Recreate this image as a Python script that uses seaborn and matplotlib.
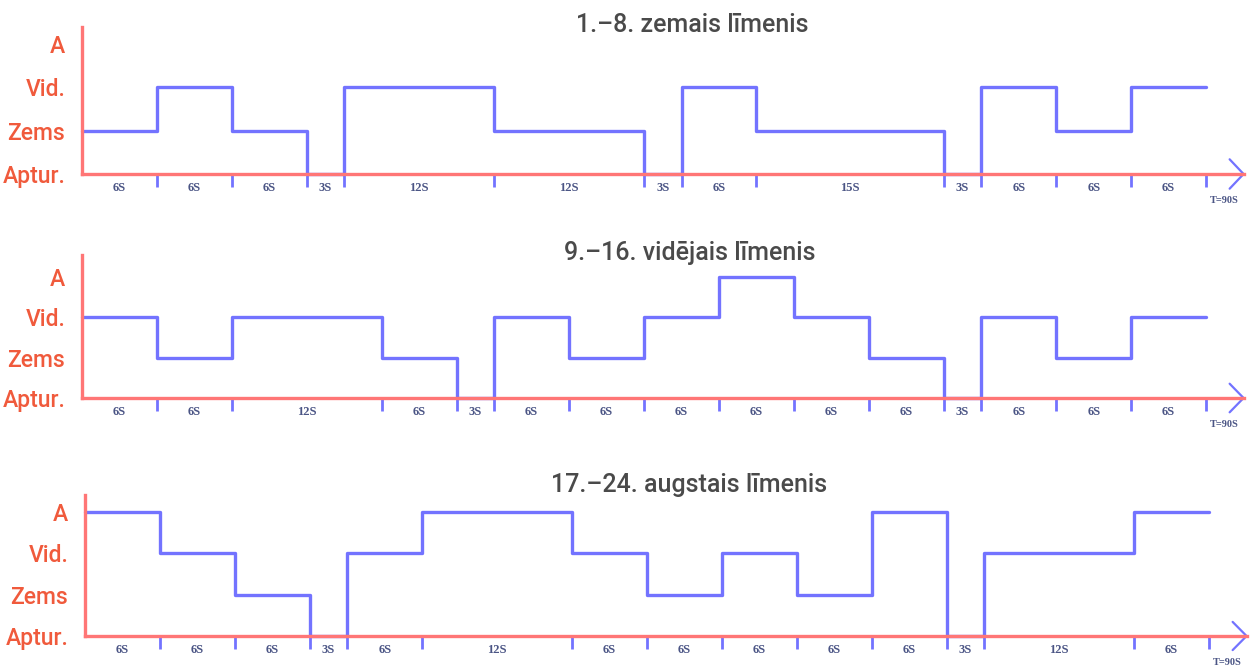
import numpy as np
import pandas as pd
import matplotlib
matplotlib.use("Agg")
import matplotlib.pyplot as plt
import seaborn as sns

sns.set_style("white")
plt.rcParams['font.family'] = ['Roboto', 'DejaVu Sans']

level_names = ["Aptur.", "Zems", "Vid.", "A"]

titles = ["1.–8. zemais līmenis",
          "9.–16. vidējais līmenis",
          "17.–24. augstais līmenis"]

# durations in seconds and level (0=Aptur., 1=Zems, 2=Vid., 3=A)
dur_low = [6, 6, 6, 3, 12, 12, 3, 6, 15, 3, 6, 6, 6]
lvl_low = [1, 2, 1, 0, 2, 1, 0, 2, 1, 0, 2, 1, 2]

dur_mid = [6, 6, 12, 6, 3, 6, 6, 6, 6, 6, 6, 3, 6, 6, 6]
lvl_mid = [2, 1, 2, 1, 0, 2, 1, 2, 3, 2, 1, 0, 2, 1, 2]

dur_high = [6, 6, 6, 3, 6, 12, 6, 6, 6, 6, 6, 3, 12, 6]
lvl_high = [3, 2, 1, 0, 2, 3, 2, 1, 2, 1, 3, 0, 2, 3]

total_label = "T=90S"

line_col = "#7373ff"
axis_col = "#ff7676"
label_col = "#f05a3c"
seg_text_col = "#4b5585"
tick_col = "#5a5a90"
serif = ['Liberation Serif', 'DejaVu Serif']

W, H = 1253, 666
fig = plt.figure(figsize=(W / 100, H / 100), dpi=100)

# panel boxes in pixels
panels = [
    (dict(left=82, bottom=174, top=27, ymax=3.39, title_y=25, title_x=692), dur_low, lvl_low),
    (dict(left=82, bottom=398, top=255, ymax=3.55, title_y=253, title_x=690), dur_mid, lvl_mid),
    (dict(left=85, bottom=636, top=495, ymax=3.41, title_y=485, title_x=689), dur_high, lvl_high),
]

xmax = 93.0
for (box, durs, lvls), title in zip(panels, titles):
    scale = 12.49
    right = box['left'] + xmax * scale
    ax = fig.add_axes([box['left'] / W, (H - box['bottom']) / H,
                       (right - box['left']) / W, (box['bottom'] - box['top']) / H])

    starts = np.concatenate([[0], np.cumsum(durs)])
    df = pd.DataFrame({"t": starts, "level": list(lvls) + [lvls[-1]]})
    sns.lineplot(data=df, x="t", y="level", drawstyle="steps-post",
                 estimator=None, sort=False, color=line_col, linewidth=2.4,
                 ax=ax, zorder=3, clip_on=False)

    ax.set_xlim(0, xmax)
    ax.set_ylim(0, box['ymax'])
    ax.set_xlabel("")
    ax.set_ylabel("")

    for s in ["top", "right"]:
        ax.spines[s].set_visible(False)
    for s in ["left", "bottom"]:
        ax.spines[s].set_color(axis_col)
        ax.spines[s].set_linewidth(2.4)
        ax.spines[s].set_zorder(4)

    ax.tick_params(which='both', bottom=True, left=True)

    # x: labels centred in segments, ticks at boundaries
    mids = starts[:-1] + np.array(durs) / 2
    ax.set_xticks(mids)
    ax.set_xticklabels([f"{d}S" for d in durs], family=serif,
                       fontsize=9, color=seg_text_col, fontweight='bold')
    ax.tick_params(axis='x', which='major', length=0, pad=6)
    ax.set_xticks(starts[1:], minor=True)
    ax.tick_params(axis='x', which='minor', length=9.5, width=2, color=line_col, direction='out')

    # y: level names
    ax.set_yticks(range(4))
    ax.set_yticklabels(level_names, fontsize=16.5, color=label_col, fontweight='medium')
    ax.tick_params(axis='y', which='major', length=0, pad=12)
    ax.set_yticks([1, 2, 3], minor=True)
    ax.tick_params(axis='y', which='minor', length=5, width=2, color=tick_col, direction='out')

    # arrow head on the time axis
    ax.plot([0.988, 1.0, 0.988], [0.10, 0, -0.10], transform=ax.transAxes,
            color=line_col, linewidth=1.6, clip_on=False)

    ax.annotate(total_label, xy=(starts[-1], 0), xytext=(3, -19), textcoords='offset points',
                ha='left', va='center', fontsize=7.5, fontweight='bold', color=seg_text_col,
                family=serif, annotation_clip=False)

    fig.text(box['title_x'] / W, 1 - box['title_y'] / H, title, ha='center', va='center',
             fontsize=18, fontweight='medium', color="#4a4a4a")

fig.savefig("out.png", dpi=100)
